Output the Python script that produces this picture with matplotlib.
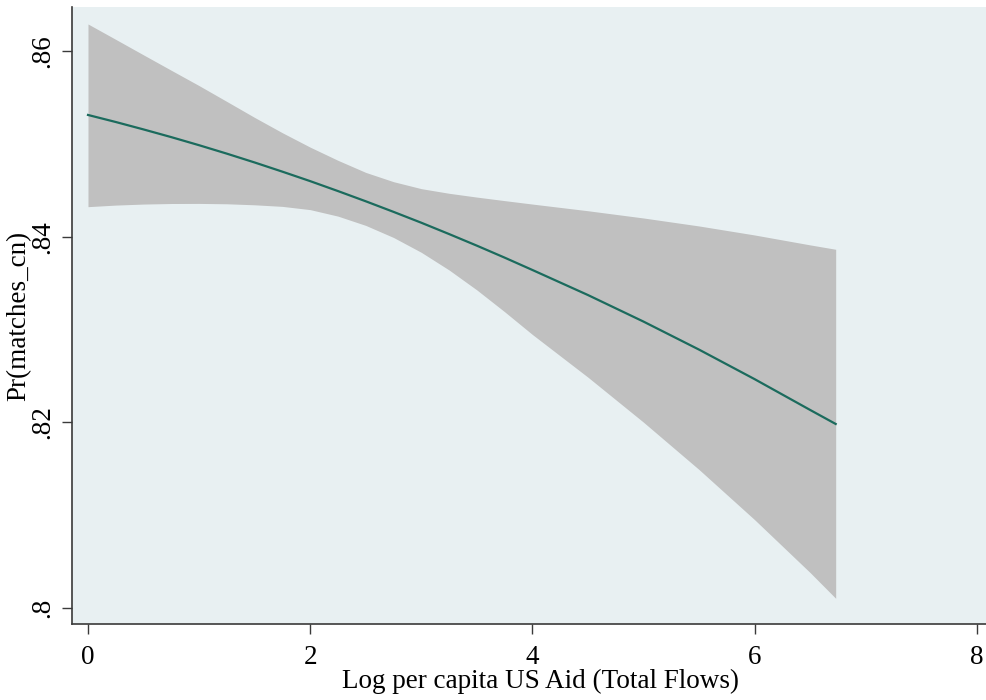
import matplotlib
matplotlib.use("Agg")
import matplotlib.pyplot as plt

# Predicted probability with 95% confidence band
log_aid = [0.0, 0.25, 0.5, 0.75, 1.0, 1.25, 1.5, 1.75, 2.0, 2.25, 2.5, 2.75,
           3.0, 3.25, 3.5, 3.75, 4.0, 4.5, 5.0, 5.5, 6.0, 6.5, 6.73]
pr_match = [0.85311, 0.85235, 0.85155, 0.85072, 0.84985, 0.84894, 0.84799, 0.84700,
            0.84598, 0.84491, 0.84381, 0.84267, 0.84150, 0.84028, 0.83903, 0.83774,
            0.83641, 0.83371, 0.83085, 0.82783, 0.82465, 0.82133, 0.81982]
ci_upper = [0.86291, 0.86125, 0.85958, 0.85792, 0.85627, 0.85456, 0.85284, 0.85119,
            0.84964, 0.84822, 0.84692, 0.84592, 0.84517, 0.84467, 0.84426, 0.84388,
            0.84351, 0.84279, 0.84201, 0.84115, 0.84018, 0.83911, 0.83864]
ci_lower = [0.84323, 0.84340, 0.84351, 0.84357, 0.84358, 0.84354, 0.84343, 0.84326,
            0.84291, 0.84221, 0.84121, 0.83991, 0.83831, 0.83641, 0.83426, 0.83191,
            0.82946, 0.82486, 0.82001, 0.81491, 0.80951, 0.80381, 0.80104]

x_ticks = [0, 2, 4, 6, 8]
y_ticks = [0.80, 0.82, 0.84, 0.86]
y_tick_labels = [".8", ".82", ".84", ".86"]

plt.rcParams['font.family'] = ['Liberation Serif', 'DejaVu Serif']

W, H = 987, 700
fig = plt.figure(figsize=(W / 100, H / 100), dpi=100)
fig.patch.set_facecolor("white")
ax = fig.add_axes([72 / W, 76 / H, (987 - 72) / W, (693 - 76) / H])
ax.set_facecolor("#e8f0f2")

ax.fill_between(log_aid, ci_lower, ci_upper, color="#c0c0c0", linewidth=0, zorder=2)
ax.plot(log_aid, pr_match, color="#1b6b5d", linewidth=1.6, zorder=3,
        solid_joinstyle="round")

ax.set_xlim(-0.144, 8.092)
ax.set_ylim(0.79827, 0.86474)

ax.set_xticks(x_ticks)
ax.set_xticklabels([str(t) for t in x_ticks])
ax.set_yticks(y_ticks)
ax.set_yticklabels(y_tick_labels, rotation=90, va="center")

for side in ("top", "right"):
    ax.spines[side].set_visible(False)
for side in ("left", "bottom"):
    ax.spines[side].set_color("#3a3a3a")
    ax.spines[side].set_linewidth(1.2)

ax.tick_params(axis="both", direction="out", length=7, width=1.0, color="#3a3a3a",
               labelsize=19.5, labelcolor="black")
ax.tick_params(axis="x", pad=8)
ax.tick_params(axis="y", pad=5)

ax.set_xlabel("Log per capita US Aid (Total Flows)", fontsize=19.5)
ax.set_ylabel("Pr(matches_cn)", fontsize=19.5)
ax.xaxis.set_label_coords((541 - 72) / (987 - 72), -0.072)
ax.yaxis.set_label_coords(-0.044, 0.5)

fig.savefig("out.png", dpi=100)
